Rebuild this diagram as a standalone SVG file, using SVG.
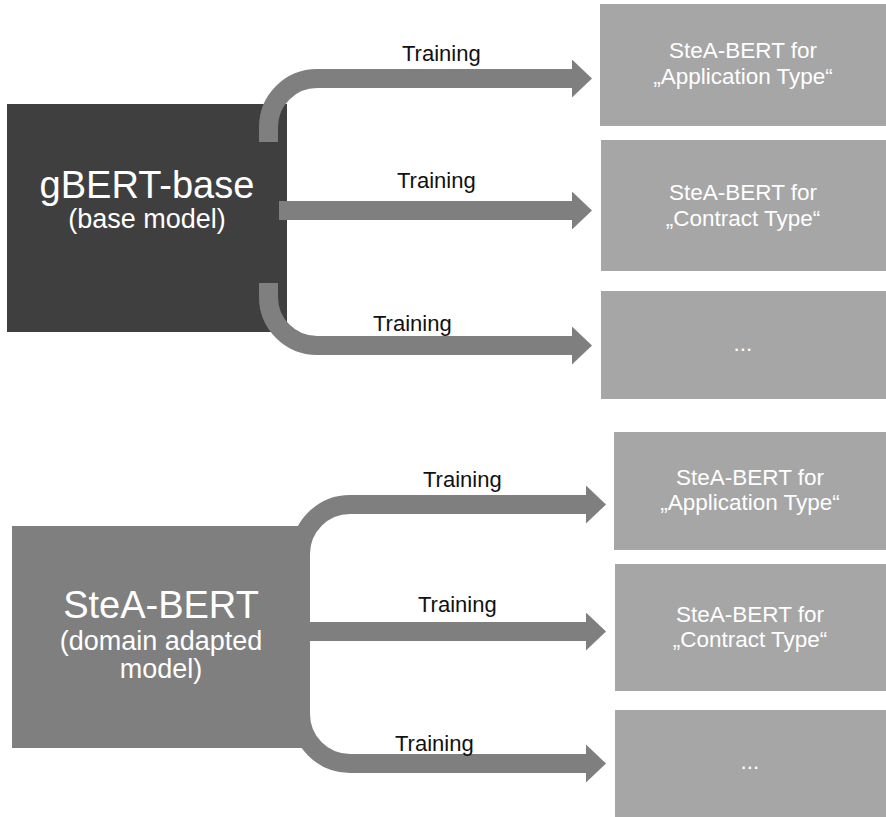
<svg xmlns="http://www.w3.org/2000/svg" width="886" height="817" viewBox="0 0 886 817">
  <style>
    .lbl { font-family: "Liberation Sans", Arial, sans-serif; fill: #ffffff; text-anchor: middle; }
    .big { font-size: 38px; }
    .sub { font-size: 27px; }
    .task { font-size: 22.5px; }
    .train { font-family: "Liberation Sans", Arial, sans-serif; font-size: 22px; fill: #111111; }
    .flow { fill: none; stroke: #7f7f7f; stroke-width: 19; stroke-linecap: butt; }
    .target { fill: #a6a6a6; }
  </style>
  <defs>
    <marker id="head" markerUnits="userSpaceOnUse" markerWidth="22" markerHeight="40" refX="1" refY="19" orient="auto">
      <path d="M0,0 L20,19 L0,38 Z" fill="#7f7f7f"/>
    </marker>
  </defs>

  <!-- upper block: general base model -->
  <g id="gbert-base">
    <rect x="7" y="104" width="280" height="228" fill="#3f3f3f"/>
    <text class="lbl big" x="147" y="198">gBERT-base</text>
    <text class="lbl sub" x="147" y="228">(base model)</text>
  </g>

  <g id="top-application">
    <rect class="target" x="600" y="4" width="286" height="122"/>
    <text class="lbl task" x="743" y="58">SteA-BERT for</text>
    <text class="lbl task" x="743" y="84">„Application Type“</text>
  </g>
  <g id="top-contract">
    <rect class="target" x="601" y="140" width="285" height="131"/>
    <text class="lbl task" x="743" y="200">SteA-BERT for</text>
    <text class="lbl task" x="743" y="226">„Contract Type“</text>
  </g>
  <g id="top-more">
    <rect class="target" x="601" y="291" width="285" height="108"/>
    <text class="lbl task" x="743" y="351">...</text>
  </g>

  <!-- lower block: domain adapted model -->
  <g id="stea-bert">
    <rect x="12" y="526" width="298" height="222" fill="#7f7f7f"/>
    <text class="lbl big" x="161" y="618">SteA-BERT</text>
    <text class="lbl sub" x="161" y="650">(domain adapted</text>
    <text class="lbl sub" x="161" y="678">model)</text>
  </g>

  <g id="bottom-application">
    <rect class="target" x="614" y="432" width="272" height="118"/>
    <text class="lbl task" x="750" y="485">SteA-BERT for</text>
    <text class="lbl task" x="750" y="510">„Application Type“</text>
  </g>
  <g id="bottom-contract">
    <rect class="target" x="615" y="564" width="271" height="127"/>
    <text class="lbl task" x="750" y="622">SteA-BERT for</text>
    <text class="lbl task" x="750" y="647">„Contract Type“</text>
  </g>
  <g id="bottom-more">
    <rect class="target" x="615" y="710" width="271" height="107"/>
    <text class="lbl task" x="750" y="769">...</text>
  </g>

  <!-- connectors -->
  <g id="connectors">
    <path class="flow" marker-end="url(#head)" d="M268.5,142 V127 A48.5,48.5 0 0 1 317,78.5 H573"/>
    <path class="flow" marker-end="url(#head)" d="M279,210.5 H573"/>
    <path class="flow" marker-end="url(#head)" d="M268.5,283 V297 A48.5,48.5 0 0 0 317,345.5 H573"/>

    <path class="flow" marker-end="url(#head)" d="M300.5,600 V554 A49.5,49.5 0 0 1 350,504.5 H587"/>
    <path class="flow" marker-end="url(#head)" d="M305,631.5 H587"/>
    <path class="flow" marker-end="url(#head)" d="M300.5,680 V714 A49.5,49.5 0 0 0 350,763.5 H587"/>

    <text class="train" x="402" y="61">Training</text>
    <text class="train" x="397" y="188">Training</text>
    <text class="train" x="373" y="331">Training</text>
    <text class="train" x="423" y="487">Training</text>
    <text class="train" x="418" y="612">Training</text>
    <text class="train" x="395" y="751">Training</text>
  </g>
</svg>
